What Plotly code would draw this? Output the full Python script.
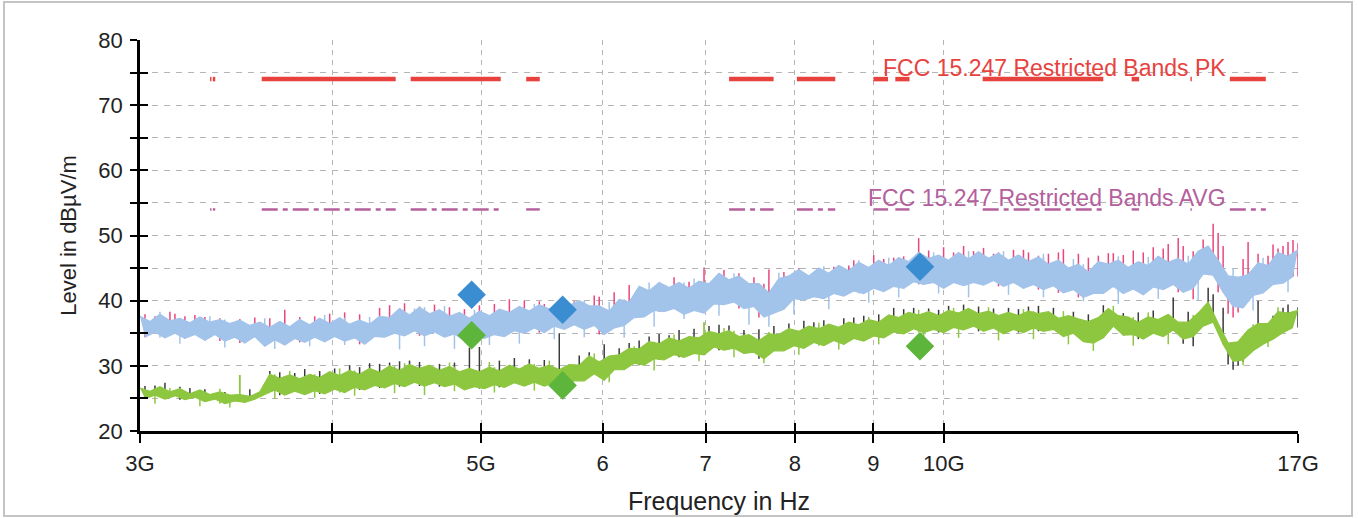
import math
import numpy as np
import plotly.graph_objects as go

# ---------------- data ----------------
# Sweep 3 GHz .. 17 GHz; band envelopes are given on the even (upper) and odd (lower) sweep points
F_START_HZ = 3e9
F_STOP_HZ = 17e9
SWEEP_POINTS = 233

# Peak preview trace (light blue band): upper / lower envelope, dBuV/m
BLUE_HI = [
    37.6, 36.8, 37.9, 36.9, 37.3, 36.6, 37.5, 36.7, 37.1, 36.5,
    37.0, 36.2, 36.7, 35.9, 36.8, 36.0, 37.1, 36.3, 37.3, 36.5,
    37.4, 36.4, 37.0, 36.4, 37.6, 37.4, 38.8, 37.8, 39.0, 38.0,
    38.6, 37.6, 38.2, 37.3, 38.4, 37.7, 38.7, 38.2, 39.1, 38.4,
    39.4, 38.7, 39.9, 39.3, 40.0, 39.2, 39.2, 38.4, 40.2, 39.8,
    42.2, 41.5, 42.8, 42.0, 42.8, 41.9, 43.0, 42.6, 44.2, 43.2,
    43.8, 42.6, 42.6, 41.2, 43.4, 43.8, 44.8, 43.8, 45.0, 44.2,
    45.4, 44.6, 45.9, 45.1, 46.2, 45.4, 46.6, 46.0, 47.4, 46.5,
    47.0, 46.2, 47.4, 46.4, 47.5, 46.5, 47.3, 46.2, 47.0, 46.0,
    46.7, 45.6, 46.2, 45.0, 45.6, 44.4, 46.0, 45.6, 46.2, 45.1,
    46.0, 45.4, 46.8, 45.9, 46.5, 45.6, 47.6, 48.4, 46.2, 43.8,
    43.6, 44.0, 45.8, 45.4, 47.4, 46.8, 47.8,
]
BLUE_LO = [
    34.4, 35.2, 34.3, 35.0, 34.2, 34.8, 33.9, 34.8, 33.8, 34.4,
    33.5, 34.5, 33.0, 34.0, 33.2, 34.2, 33.6, 34.4, 33.7, 34.5,
    33.8, 34.3, 33.3, 34.5, 34.4, 35.0, 34.6, 35.4, 34.6, 35.2,
    34.4, 34.9, 33.9, 34.8, 34.2, 34.8, 34.5, 35.4, 35.0, 35.8,
    35.1, 36.1, 35.6, 36.3, 35.6, 36.2, 34.8, 35.8, 36.2, 37.4,
    37.5, 38.5, 38.3, 38.8, 37.9, 38.5, 38.1, 39.5, 39.4, 39.8,
    38.8, 39.1, 37.5, 38.1, 38.7, 40.3, 40.1, 40.6, 40.3, 41.1,
    40.7, 41.5, 41.1, 41.9, 41.4, 42.2, 41.9, 42.9, 42.5, 42.8,
    41.9, 42.8, 42.3, 42.8, 42.4, 43.1, 42.2, 42.8, 41.9, 42.5,
    41.7, 42.3, 41.2, 41.7, 40.5, 41.1, 41.1, 42.2, 41.1, 41.8,
    40.9, 42.1, 41.7, 42.5, 41.3, 41.9, 44.1, 43.9, 41.3, 39.1,
    38.9, 40.8, 41.2, 42.5, 42.7, 43.7,
]
# single sweep points of the blue trace poking out of its band (index, level)
BLUE_UP_I = [4, 14, 25, 37, 46, 55, 61, 67, 79, 85, 94, 102, 111, 119, 128, 137, 144, 150, 159, 166,
             173, 181, 187, 196, 202, 210, 219, 225]
BLUE_UP_DB = [38.3, 37.6, 37.3, 37.8, 37.5, 38.8, 39.2, 38.6, 39.5, 40.3, 39.8, 42.8, 43.4, 44.2, 44.3, 45.3, 46.2, 46.6, 47.4, 47.6,
              47.6, 47.2, 46.4, 46.8, 46.7, 46.9, 45.0, 46.6]
BLUE_DIP_I = [8, 17, 27, 34, 41, 52, 57, 63, 70, 76, 83, 89, 97, 103, 109, 116, 122, 126, 131, 138,
              146, 152, 160, 166, 174, 181, 189, 196, 204, 212, 223, 230]
BLUE_DIP_DB = [33.4, 32.8, 32.6, 33.0, 33.2, 32.5, 33.0, 32.6, 33.2, 33.4, 34.1, 34.4, 34.3, 36.0, 37.2, 37.7, 36.3, 36.0, 37.9, 38.7,
               39.7, 40.5, 41.1, 40.5, 40.9, 40.5, 39.9, 39.5, 40.3, 40.1, 38.5, 41.3]

# Peak trace (pink): spikes above the blue band (sweep index, level) and dips below it
PINK_SPIKE_I = [1, 3, 6, 7, 9, 11, 13, 16, 20, 23, 26, 29, 32, 35, 38, 41, 44, 48, 50, 53,
                56, 59, 62, 65, 68, 71, 74, 77, 80, 81, 87, 91, 92, 95, 98, 100, 104, 107, 110, 113,
                117, 120, 123, 126, 129, 132, 135, 139, 142, 143, 147, 149, 151, 153, 156, 158, 161, 163, 165, 167,
                169, 171, 172, 175, 177, 178, 180, 182, 184, 185, 188, 190, 192, 194, 195, 197, 199, 201, 203, 205,
                206, 208, 209, 211, 213, 215, 216, 217, 221, 222, 224, 226, 227, 228, 229, 230, 231, 232]
PINK_SPIKE_DB = [37.9, 37.6, 38.3, 38.0, 37.6, 37.8, 37.5, 37.3, 37.2, 37.4, 37.3, 38.6, 37.5, 37.6, 38.0, 38.2, 37.9, 38.9, 39.3, 39.6,
                 39.1, 39.4, 39.0, 38.7, 39.3, 39.5, 40.2, 40.0, 39.9, 39.5, 39.9, 40.8, 40.6, 41.3, 42.4, 41.9, 42.6, 43.6, 42.9, 45.1,
                 44.7, 44.2, 43.6, 44.8, 44.4, 45.0, 44.0, 45.2, 45.4, 46.2, 47.0, 46.4, 46.6, 46.8, 49.6, 47.7, 48.2, 47.4, 48.4, 47.6,
                 48.1, 47.2, 47.4, 47.8, 47.8, 47.4, 46.9, 47.2, 47.4, 47.9, 47.2, 46.6, 46.9, 47.3, 47.3, 47.0, 47.7, 47.4, 48.2, 48.0,
                 48.7, 49.6, 48.4, 47.6, 49.4, 51.8, 50.4, 48.4, 46.4, 49.0, 47.2, 46.9, 48.6, 48.0, 48.4, 49.0, 49.3, 48.8]
PINK_DIP_I = [124, 125, 211, 218, 219, 220]
PINK_DIP_DB = [37.4, 37.8, 40.2, 38.0, 37.4, 38.2]

# Average preview trace (green band): upper / lower envelope
GREEN_HI = [
    26.6, 26.1, 26.8, 26.0, 26.5, 25.7, 26.3, 25.6, 26.0, 25.5,
    25.6, 25.3, 26.0, 28.7, 28.1, 28.6, 28.0, 28.7, 28.2, 29.1,
    28.5, 29.3, 28.7, 29.6, 29.0, 30.0, 29.3, 30.2, 29.6, 30.1,
    29.3, 29.9, 29.1, 29.6, 29.1, 29.8, 29.2, 30.1, 29.5, 30.3,
    29.6, 30.1, 29.4, 30.2, 30.1, 31.5, 30.6, 31.5, 31.7, 32.7,
    32.6, 33.7, 33.4, 34.3, 33.8, 34.5, 34.3, 35.3, 34.9, 35.4,
    34.5, 34.8, 33.9, 34.9, 34.8, 35.7, 35.3, 36.1, 35.7, 36.4,
    35.9, 36.7, 36.3, 37.1, 36.7, 37.8, 37.4, 38.2, 37.8, 38.3,
    37.7, 38.5, 38.1, 38.8, 38.0, 38.4, 37.7, 38.2, 37.7, 38.4,
    38.0, 38.3, 37.3, 37.7, 37.2, 36.8, 37.4, 38.8, 37.7, 37.5,
    36.7, 37.5, 37.1, 37.9, 36.7, 36.7, 38.1, 39.8, 36.5, 33.5,
    33.7, 35.5, 36.5, 36.5, 38.3, 38.1, 38.5,
]
GREEN_LO = [
    25.0, 25.5, 24.9, 25.4, 24.8, 25.2, 24.5, 24.9, 24.2, 24.6,
    24.4, 24.9, 25.6, 26.3, 25.5, 26.1, 25.6, 26.2, 25.7, 26.4,
    25.9, 26.7, 26.3, 27.0, 26.6, 27.3, 26.8, 27.5, 26.9, 27.4,
    26.8, 27.2, 26.3, 26.8, 26.5, 27.1, 26.7, 27.4, 26.9, 27.5,
    26.9, 27.4, 26.7, 27.7, 27.7, 28.8, 27.8, 29.4, 29.4, 30.4,
    30.1, 31.1, 30.9, 31.7, 31.3, 31.9, 31.7, 32.9, 32.4, 32.7,
    31.9, 32.1, 31.1, 32.3, 32.3, 33.1, 32.7, 33.6, 33.1, 33.9,
    33.3, 34.2, 33.8, 34.6, 34.3, 35.2, 34.9, 35.7, 35.1, 35.6,
    35.1, 35.9, 35.5, 36.1, 35.3, 35.8, 34.9, 35.6, 35.1, 35.8,
    35.3, 35.6, 34.5, 35.0, 33.7, 33.5, 34.3, 36.1, 34.7, 34.8,
    34.1, 35.0, 34.5, 35.5, 34.1, 34.5, 36.1, 36.7, 33.3, 30.7,
    30.9, 32.3, 33.3, 34.1, 35.1, 35.9,
]
GREEN_SPIKE_I = [20, 113]
GREEN_SPIKE_DB = [28.6, 36.7]
GREEN_UP_I = [6, 16, 30, 40, 53, 62, 70, 82, 91, 99, 107, 117, 126, 136, 146, 156, 163, 170, 177, 185,
              195, 202, 211, 223, 228]
GREEN_UP_DB = [26.6, 26.5, 29.2, 29.6, 30.4, 30.5, 30.6, 30.8, 31.9, 33.0, 34.8, 35.8, 35.2, 36.6, 37.5, 38.6, 38.9, 39.0, 38.7, 38.4,
               39.2, 38.2, 37.8, 36.4, 39.0]
GREEN_DIP_I = [3, 12, 18, 27, 35, 43, 51, 57, 63, 71, 79, 86, 94, 103, 112, 119, 125, 132, 140, 148,
               157, 164, 172, 179, 186, 191, 199, 206, 221, 226]
GREEN_DIP_DB = [24.2, 23.8, 23.6, 24.9, 25.1, 25.4, 25.8, 25.5, 26.1, 25.9, 26.2, 26.3, 27.5, 29.3, 30.7, 31.3, 30.4, 31.7, 32.5, 33.3,
                34.1, 34.3, 33.9, 34.1, 33.3, 32.3, 33.1, 33.3, 30.1, 32.9]
# Average trace (dark grey): spikes above the green band and dips below it
DARK_SPIKE_I = [1, 3, 5, 8, 10, 13, 17, 22, 26, 28, 31, 33, 36, 39, 42, 44, 46, 48, 50, 52,
                54, 56, 60, 63, 66, 68, 72, 75, 78, 81, 84, 88, 90, 93, 96, 98, 100, 102, 104, 106,
                108, 111, 114, 116, 118, 121, 124, 127, 130, 133, 135, 137, 141, 143, 145, 148, 151, 153, 155, 158,
                160, 162, 165, 168, 171, 174, 176, 178, 180, 183, 187, 190, 193, 197, 200, 203, 207, 210, 214, 215,
                217, 224, 227, 229, 230, 232]
DARK_SPIKE_DB = [26.9, 27.0, 27.4, 26.8, 26.6, 26.4, 26.0, 26.4, 29.2, 29.0, 28.9, 29.5, 29.2, 29.6, 30.1, 29.8, 30.4, 30.3, 30.5, 30.7,
                 30.8, 30.6, 30.3, 30.5, 32.8, 32.9, 30.8, 31.2, 31.0, 30.9, 35.0, 31.6, 32.1, 33.3, 32.7, 33.5, 33.9, 34.5, 34.9, 34.7,
                 35.5, 35.7, 36.1, 36.3, 36.2, 35.5, 35.6, 36.1, 36.5, 36.9, 36.7, 37.0, 37.3, 37.4, 37.7, 37.9, 38.9, 38.7, 38.9, 38.8,
                 38.6, 39.2, 39.4, 39.1, 38.8, 38.9, 38.7, 39.1, 39.2, 38.9, 38.3, 37.9, 39.3, 38.1, 38.2, 38.5, 40.5, 38.3, 42.0, 41.0,
                 38.9, 40.0, 37.7, 38.9, 39.4, 39.0]
DARK_DIP_I = [209, 211, 218, 219, 220, 221]
DARK_DIP_DB = [33.4, 33.0, 30.2, 29.4, 30.0, 30.6]

# Restricted bands (GHz) and their limits
BAND_LO_GHZ = [3.332, 3.3458, 3.6, 4.5, 5.35, 7.25, 8.025, 9.0, 9.3, 10.6, 13.25, 14.47, 15.35]
BAND_HI_GHZ = [3.339, 3.358, 4.4, 5.15, 5.46, 7.75, 8.5, 9.2, 9.5, 12.7, 13.4, 14.5, 16.2]
PK_LIMIT = 74
AVG_LIMIT = 54

# Final measurement markers
MARKER_FREQ_GHZ = [4.93, 5.65, 9.65]
MARKER_PK = [40.9, 38.6, 45.2]
MARKER_AVG = [34.7, 27.0, 33.0]

X_TICKS_GHZ = [3, 4, 5, 6, 7, 8, 9, 10, 17]
X_TICK_TEXT = ["3G", "", "5G", "6", "7", "8", "9", "10G", "17G"]
Y_TICKS = [20, 25, 30, 35, 40, 45, 50, 55, 60, 65, 70, 75, 80]
Y_TICK_TEXT = ["20", "", "30", "", "40", "", "50", "", "60", "", "70", "", "80"]

# ---------------- styling ----------------
W, H = 1358, 518
ML, MR, MT, MB = 140, 60, 40, 87
FONT = "Liberation Sans, Arial, sans-serif"
C_PINK = "#E8477D"
C_BLUE = "#A2C3EA"
C_GREEN = "#8DC63F"
C_DARK = "#3A3A3A"
C_PK_LIM = "#E8423F"
C_AVG_LIM = "#B4609D"
C_DIA_BLUE = "#3B8DD2"
C_DIA_GREEN = "#5DB53B"
C_GRID = "#B5B5B5"

SWEEP = np.geomspace(F_START_HZ, F_STOP_HZ, SWEEP_POINTS)
X_EVEN = SWEEP[0::2]
X_ODD = SWEEP[1::2]


def spikes(idx, ends, ref):
    """vertical segments at sweep points, from the band envelope value to the read level"""
    xs, ys = [], []
    for i, v in zip(idx, ends):
        k = min(i // 2, len(ref) - 1)
        xs += [SWEEP[i], SWEEP[i], None]
        ys += [ref[k], v, None]
    return xs, ys


def band_xy(level):
    xs, ys = [], []
    for lo, hi in zip(BAND_LO_GHZ, BAND_HI_GHZ):
        xs += [lo * 1e9, hi * 1e9, None]
        ys += [level, level, None]
    return xs, ys


def seg_trace(xy, color, width):
    return go.Scatter(x=xy[0], y=xy[1], mode="lines", line=dict(color=color, width=width))


fig = go.Figure()

# --- peak traces
fig.add_trace(seg_trace(spikes(PINK_SPIKE_I, PINK_SPIKE_DB, BLUE_LO), C_PINK, 1.5))
fig.add_trace(seg_trace(spikes(PINK_DIP_I, PINK_DIP_DB, BLUE_HI), C_PINK, 1.5))
fig.add_trace(seg_trace(spikes(BLUE_UP_I, BLUE_UP_DB, BLUE_LO), C_BLUE, 1.5))
fig.add_trace(seg_trace(spikes(BLUE_DIP_I, BLUE_DIP_DB, BLUE_HI), C_BLUE, 1.5))
fig.add_trace(go.Scatter(x=X_ODD, y=BLUE_LO, mode="lines", line=dict(color=C_BLUE, width=1.2)))
fig.add_trace(go.Scatter(x=X_EVEN, y=BLUE_HI, mode="lines", line=dict(color=C_BLUE, width=1.2),
                         fill="tonexty", fillcolor=C_BLUE))

# --- average traces
fig.add_trace(seg_trace(spikes(DARK_SPIKE_I, DARK_SPIKE_DB, GREEN_LO), C_DARK, 1.5))
fig.add_trace(seg_trace(spikes(DARK_DIP_I, DARK_DIP_DB, GREEN_HI), C_DARK, 1.5))
fig.add_trace(seg_trace(spikes(GREEN_UP_I, GREEN_UP_DB, GREEN_LO), C_GREEN, 1.5))
fig.add_trace(seg_trace(spikes(GREEN_DIP_I, GREEN_DIP_DB, GREEN_HI), C_GREEN, 1.5))
fig.add_trace(go.Scatter(x=X_ODD, y=GREEN_LO, mode="lines", line=dict(color=C_GREEN, width=1.2)))
fig.add_trace(go.Scatter(x=X_EVEN, y=GREEN_HI, mode="lines", line=dict(color=C_GREEN, width=1.2),
                         fill="tonexty", fillcolor=C_GREEN))
fig.add_trace(seg_trace(spikes(GREEN_SPIKE_I, GREEN_SPIKE_DB, GREEN_HI), C_GREEN, 1.8))

# --- limits
fig.add_trace(seg_trace(band_xy(PK_LIMIT), C_PK_LIM, 4.5))
x, y = band_xy(AVG_LIMIT)
fig.add_trace(go.Scatter(x=x, y=y, mode="lines",
                         line=dict(color=C_AVG_LIM, width=2.4, dash="16px,5px,5px,5px")))

# --- final markers
mf = [f * 1e9 for f in MARKER_FREQ_GHZ]
fig.add_trace(go.Scatter(x=mf, y=MARKER_PK, mode="markers",
                         marker=dict(symbol="diamond", size=22, color=C_DIA_BLUE)))
fig.add_trace(go.Scatter(x=mf, y=MARKER_AVG, mode="markers",
                         marker=dict(symbol="diamond", size=22, color=C_DIA_GREEN)))

# empty trace so the overlay axes (inner half of the crossing ticks) exist
fig.add_trace(go.Scatter(x=[], y=[], xaxis="x2", yaxis="y2"))

xr = [math.log10(F_START_HZ), math.log10(F_STOP_HZ)]
xt = [v * 1e9 for v in X_TICKS_GHZ]

fig.update_layout(
    width=W, height=H,
    margin=dict(l=ML, r=MR, t=MT, b=MB, pad=0),
    paper_bgcolor="white", plot_bgcolor="white",
    showlegend=False,
    font=dict(family=FONT, color="#222222"),
    xaxis=dict(type="log", range=xr, tickmode="array", tickvals=xt, ticktext=X_TICK_TEXT,
               ticks="outside", ticklen=9, tickwidth=2, tickcolor="black",
               showline=True, linecolor="black", linewidth=2.5, automargin=False,
               showgrid=True, gridcolor=C_GRID, gridwidth=1, griddash="5px,5px",
               zeroline=False, tickfont=dict(size=22, color="#222"), ticklabelstandoff=2,
               title=dict(text="Frequency in Hz", font=dict(size=25, color="#222"), standoff=18)),
    yaxis=dict(range=[20, 80], tickmode="array", tickvals=Y_TICKS, ticktext=Y_TICK_TEXT,
               ticks="outside", ticklen=7, tickwidth=2, tickcolor="black",
               showline=True, linecolor="black", linewidth=2.5, automargin=False,
               showgrid=True, gridcolor=C_GRID, gridwidth=1, griddash="6px,6px",
               zeroline=False, tickfont=dict(size=22, color="#222"), ticklabelstandoff=3,
               title=dict(text="Level in dBµV/m", font=dict(size=22, color="#222"), standoff=16)),
    xaxis2=dict(type="log", range=xr, overlaying="x", anchor="y2", side="bottom",
                tickmode="array", tickvals=xt, ticks="inside", ticklen=8, tickwidth=2,
                tickcolor="black", showticklabels=False, showgrid=False, showline=False,
                zeroline=False, automargin=False),
    yaxis2=dict(range=[20, 80], overlaying="y", anchor="x2", side="left",
                tickmode="array", tickvals=Y_TICKS, ticks="inside", ticklen=8, tickwidth=2,
                tickcolor="black", showticklabels=False, showgrid=False, showline=False,
                zeroline=False, automargin=False),
)

pw = W - ML - MR
ph = H - MT - MB


def pxx(v):
    return (v - ML) / pw


def pxy(v):
    return (H - MB - v) / ph


# outer frame of the picture
fig.add_shape(type="rect", xref="paper", yref="paper",
              x0=pxx(4), x1=pxx(1352), y0=pxy(516), y1=pxy(2),
              line=dict(color="#C4C4C4", width=2), layer="below")

label_x = pxx(1228)
fig.add_annotation(text="FCC 15.247 Restricted Bands PK", xref="paper", yref="y",
                   x=label_x, y=PK_LIMIT, xanchor="right", yanchor="bottom",
                   showarrow=False, yshift=-4, font=dict(size=23, color=C_PK_LIM, family=FONT))
fig.add_annotation(text="FCC 15.247 Restricted Bands AVG", xref="paper", yref="y",
                   x=label_x, y=AVG_LIMIT, xanchor="right", yanchor="bottom",
                   showarrow=False, yshift=-4, font=dict(size=23, color=C_AVG_LIM, family=FONT))

fig.write_html("out.html", config={"displayModeBar": False},
               post_script="document.body.style.margin='0px';")
